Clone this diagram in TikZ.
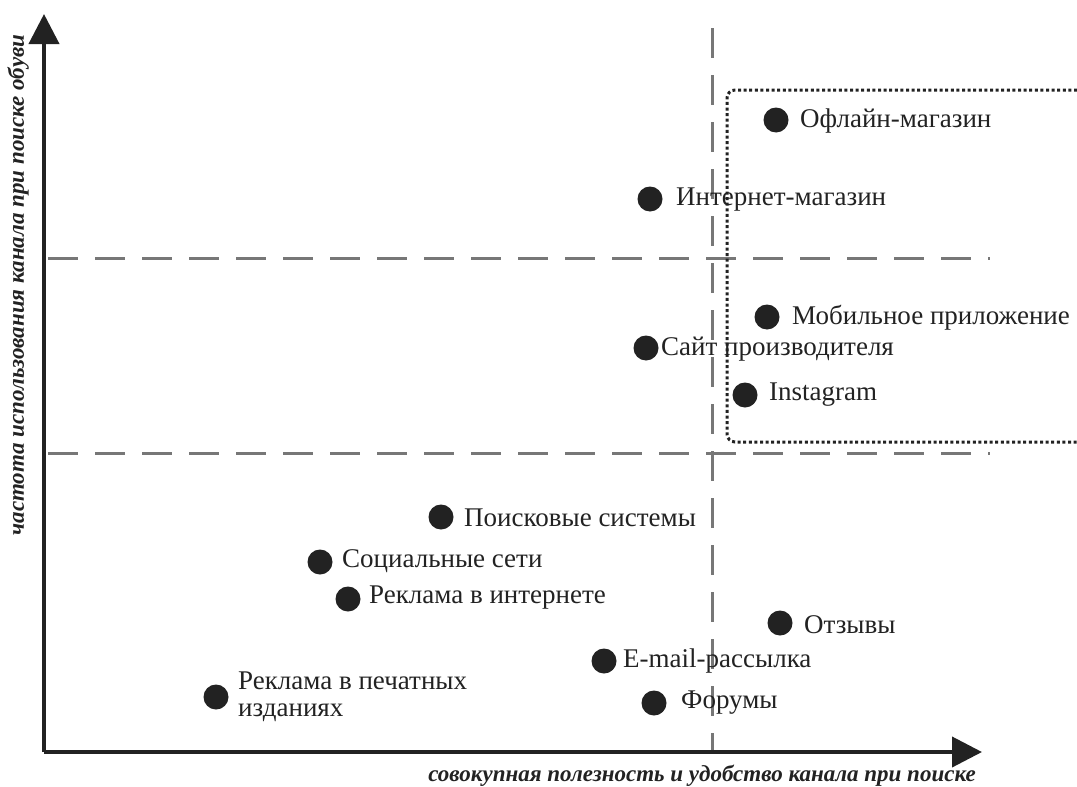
\documentclass[tikz,border=0pt]{standalone}
\usepackage{fontspec}
\setmainfont{Liberation Serif}
\usetikzlibrary{arrows.meta}
\definecolor{ink}{HTML}{222222}
\definecolor{dashgray}{HTML}{777777}
\tikzset{
  axis/.style={line width=4pt, draw=ink, -{Triangle[length=30pt,width=30pt]}},
  quad/.style={line width=3pt, draw=dashgray, dash pattern=on 30pt off 17pt},
  zone/.style={line width=3pt, draw=ink, dash pattern=on 3pt off 2.6pt, rounded corners=8pt},
  pt/.style={circle, fill=ink, minimum size=25pt, inner sep=0pt},
  lbl/.style={anchor=west, inner sep=0pt, text=ink, font=\fontsize{27}{27.5}\selectfont, align=left},
  axlbl/.style={inner sep=0pt, text=ink, font=\fontsize{23}{26}\selectfont\bfseries\itshape}
}
\begin{document}
\begin{tikzpicture}[x=1pt,y=-1pt]
\useasboundingbox (0,0) rectangle (1077,787);
\coordinate (O) at (44,752);
\coordinate (Ytip) at (44,14);
\coordinate (Xtip) at (982,752);
% quadrant lines
\coordinate (v1) at (712,28);
\coordinate (v2) at (712,752);
\coordinate (h1a) at (48,258);
\coordinate (h1b) at (990,258);
\coordinate (h2a) at (48,453);
\coordinate (h2b) at (990,453);
\draw[quad] (v1) -- (v2);
\draw[quad] (h1a) -- (h1b);
\draw[quad] (h2a) -- (h2b);
% zone
\coordinate (z1) at (1077,90);
\coordinate (z2) at (727,90);
\coordinate (z3) at (727,442);
\coordinate (z4) at (1077,442);
\draw[zone] (z1) -- (z2) -- (z3) -- (z4);
% axes
\draw[axis] (O) -- (Ytip);
\draw[axis] (O) -- (Xtip);
\node[axlbl] (xl) at (702,776) {совокупная полезность и удобство канала при поиске};
\node[axlbl, rotate=90] (yl) at (18,285) {частота использования канала при поиске обуви};
% points
\node[pt] (p1) at (776,120) {};  \node[lbl] (t1) at (800,121) {Офлайн-магазин};
\node[pt] (p2) at (650,199) {};  \node[lbl] (t2) at (676,200) {Интернет-магазин};
\node[pt] (p3) at (767,317) {};  \node[lbl] (t3) at (792,318) {Мобильное приложение};
\node[pt] (p4) at (646,348) {};  \node[lbl] (t4) at (661,349) {Сайт производителя};
\node[pt] (p5) at (745,395) {};  \node[lbl] (t5) at (769,395) {Instagram};
\node[pt] (p6) at (441,517) {};  \node[lbl] (t6) at (464,518) {Поисковые системы};
\node[pt] (p7) at (320,562) {};  \node[lbl] (t7) at (342,561) {Социальные сети};
\node[pt] (p8) at (348,599) {};  \node[lbl] (t8) at (369,598) {Реклама в интернете};
\node[pt] (p9) at (780,623) {};  \node[lbl] (t9) at (804,625) {Отзывы};
\node[pt] (p10) at (604,661) {}; \node[lbl] (t10) at (623,661) {E-mail-рассылка};
\node[pt] (p11) at (654,703) {}; \node[lbl] (t11) at (681,703) {Форумы};
\node[pt] (p12) at (216,697) {}; \node[lbl] (t12) at (238,697) {Реклама в печатных\\изданиях};
\end{tikzpicture}
\end{document}
